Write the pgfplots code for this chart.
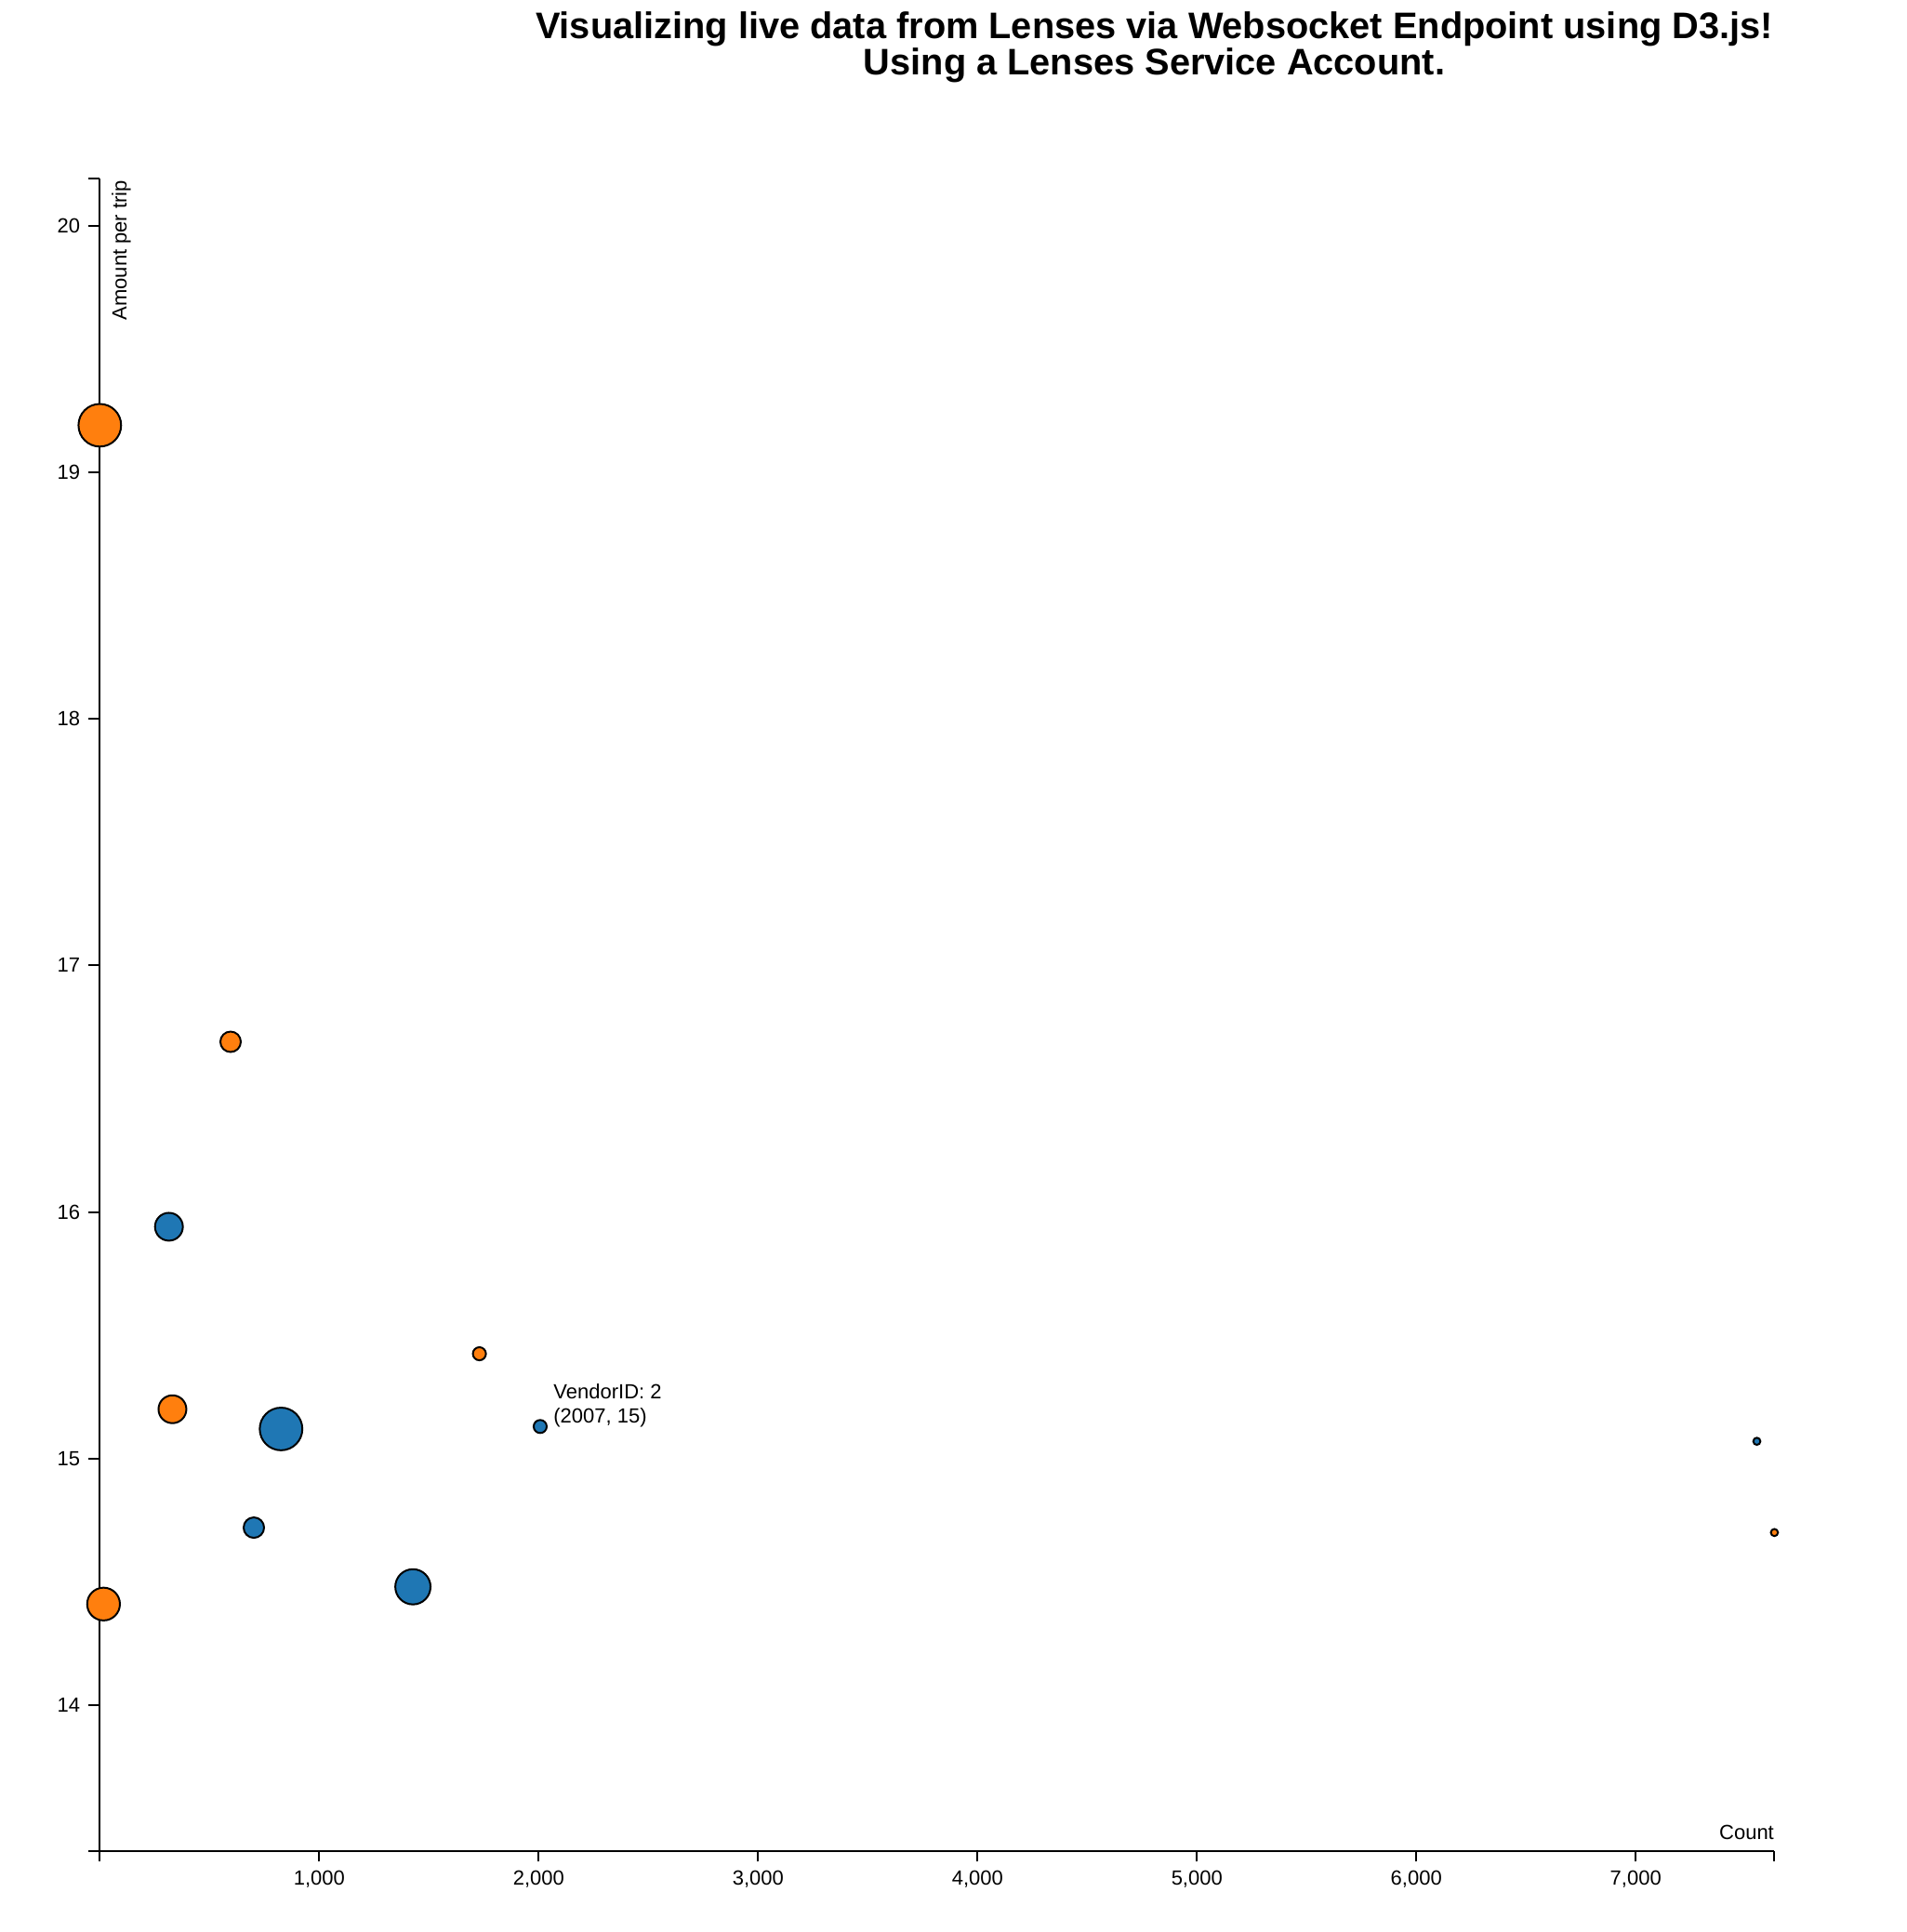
\documentclass[border=0pt]{standalone}
\usepackage{fontspec}
\setmainfont{Liberation Sans}
\usepackage{pgfplots}
\pgfplotsset{compat=1.18}
\definecolor{dorange}{HTML}{FF7F0E}
\definecolor{dblue}{HTML}{1F77B4}
\pgfplotstableread{
x y r
0 19.19 8.65
596 16.69 4.15
331 15.20 5.65
17 14.41 6.65
1730 15.425 2.65
7632 14.70 1.45
}\orangedata
\pgfplotstableread{
x y r
315 15.94 5.65
826 15.12 8.65
702 14.72 4.15
1427 14.48 7.15
2007 15.13 2.65
7552 15.07 1.45
}\bluedata
\begin{document}
\begin{tikzpicture}
\begin{axis}[
  at={(0pt,0pt)}, anchor=south west,
  width=679.5pt, height=678.5pt, scale only axis,
  xmin=0, xmax=7632, ymin=13.41, ymax=20.19,
  axis x line*=bottom, axis y line*=left,
  axis line style={line width=0.75pt, -},
  xtick={1000,2000,...,7000}, ytick={14,15,...,20},
  tick align=outside, major tick length=4.5pt,
  tick style={line width=0.75pt, black},
  ticklabel style={font=\fontsize{8.3}{10}\selectfont},
  /pgf/number format/assume math mode=true,
  /pgf/number format/1000 sep={,},
  scaled x ticks=false, scaled y ticks=false,
  clip=false,
]
\addplot[scatter, only marks, mark=*, line width=0.75pt,
  scatter/use mapped color={draw=black, fill=dorange},
  visualization depends on={\thisrow{r}\as\rr},
  scatter/@pre marker code/.append style={/tikz/mark size=\rr}]
  table[x=x,y=y] {\orangedata};
\addplot[scatter, only marks, mark=*, line width=0.75pt,
  scatter/use mapped color={draw=black, fill=dblue},
  visualization depends on={\thisrow{r}\as\rr},
  scatter/@pre marker code/.append style={/tikz/mark size=\rr}]
  table[x=x,y=y] {\bluedata};
% D3 outer ticks
\draw[line width=0.75pt] (rel axis cs:0,1) -- ++(-4.5pt,0pt);
\draw[line width=0.75pt] (rel axis cs:0,0) -- ++(-4.5pt,0pt);
\draw[line width=0.75pt] (rel axis cs:0,0) -- ++(0pt,-4.5pt);
\draw[line width=0.75pt] (rel axis cs:1,0) -- ++(0pt,-4.5pt);
% axis labels
\node[xshift=4.6pt, yshift=-0.5pt, rotate=90, anchor=north east, inner sep=0pt,
  font=\fontsize{8.3}{10}\selectfont] at (rel axis cs:0,1) {Amount per trip};
\node[anchor=base east, inner sep=0pt, yshift=4.5pt,
  font=\fontsize{8.3}{10}\selectfont] at (rel axis cs:1,0) {Count};
% tooltip label
\node[anchor=base west, inner sep=0pt, xshift=5.25pt, yshift=11.3pt,
  font=\fontsize{8.3}{10}\selectfont] at (axis cs:2007,15.13) {VendorID: 2};
\node[anchor=base west, inner sep=0pt, xshift=5.25pt, yshift=1.5pt,
  font=\fontsize{8.3}{10}\selectfont] at (axis cs:2007,15.13) {(2007, 15)};
\end{axis}
\node[anchor=base, inner sep=0pt, font=\fontsize{15}{18}\selectfont\bfseries]
  at (427.9pt,735.5pt) {Visualizing live data from Lenses via Websocket Endpoint using D3.js!};
\node[anchor=base, inner sep=0pt, font=\fontsize{15}{18}\selectfont\bfseries]
  at (427.9pt,720.5pt) {Using a Lenses Service Account.};
\path (-40.5pt,-33pt) rectangle (733pt,751pt);
\end{tikzpicture}
\end{document}
